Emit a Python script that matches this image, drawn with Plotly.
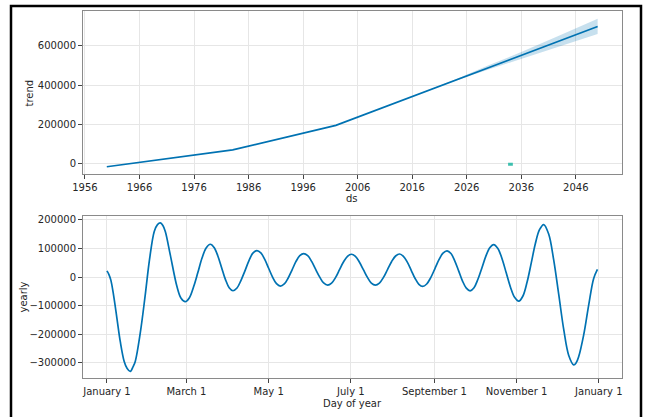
import plotly.graph_objects as go
import pandas as pd

W, H = 646, 417

# ---- trend panel data ----
trend_dates = ["1960-01-01", "1983-02-01", "2002-01-01", "2016-01-01", "2026-01-01", "2036-01-01", "2050-01-01"]
trend_vals = [-15200, 70800, 195500, 343000, 448000, 551000, 698000]

band_dates = ["2016-01-01", "2024-01-01", "2030-01-01", "2036-01-01", "2043-01-01", "2050-01-01"]
band_upper = [343500, 430000, 501000, 568000, 652000, 738000]
band_lower = [342500, 424000, 479000, 534000, 598000, 660000]

marker_dates = ["2033-08-01", "2034-06-15"]
marker_vals = [-3000, -3000]

trend_tick_years = [1956, 1966, 1976, 1986, 1996, 2006, 2016, 2026, 2036, 2046]
trend_yticks = [0, 200000, 400000, 600000]

# ---- yearly panel data (day of year, value) ----
yearly_days = [
    0, 1.4, 2.9, 4.9, 7.4, 9.9, 12.8, 15.0, 17.3,
    19.5, 21.0, 24.7, 28.4, 31.6, 35.1, 37.5, 39.6,
    41.5, 43.3, 47.0, 51.9, 55.0, 58.1,
    61.2, 64.3, 67.4, 70.5, 73.6, 76.7,
    79.5, 82.3, 85.1, 87.9, 90.7, 93.5,
    96.5, 99.4, 102.4, 105.4, 108.3, 111.3,
    114.2, 117.1, 120.0, 122.9, 125.8, 128.7,
    131.6, 134.5, 137.4, 140.2, 143.1, 146.0,
    149.0, 151.9, 154.9, 157.9, 160.8, 163.8,
    166.7, 169.7, 172.6, 175.5, 178.5, 181.4,
    184.4, 187.3, 190.3, 193.3, 196.2, 199.2,
    202.2, 205.2, 208.2, 211.2, 214.2, 217.2,
    220.0, 222.9, 225.8, 228.6, 231.5, 234.3,
    237.3, 240.3, 243.4, 246.4, 249.4, 252.4,
    255.3, 258.1, 261.0, 263.8, 266.7, 269.5,
    272.4, 275.3, 278.3, 281.2, 284.1, 287.0,
    290.1, 293.2, 296.3, 299.4, 302.5, 305.6,
    308.7, 311.8, 314.9, 317.9, 321.0, 324.1,
    327.8, 331.5, 335.3, 339.0, 342.7, 346.4,
    348.2, 350.1, 353.8, 357.5, 361.2, 364.0,
]
yearly_vals = [
    22000, 10000, -10500, -63000, -144000, -226000, -295000, -320000, -330000,
    -312000, -295000, -196000, -63000, 62000, 160000, 184000, 190000,
    181000, 160000, 78000, -32000, -74000, -86000,
    -72000, -34000, 15000, 66000, 102000, 115000,
    104000, 74000, 33000, -8000, -37000, -47700,
    -38000, -12000, 22000, 58000, 84000, 93000,
    85000, 62000, 31000, 0, -23000, -31400,
    -24000, -3000, 25500, 54000, 75000, 82500,
    75000, 55000, 27000, 0, -20500, -28000,
    -21000, -1000, 26000, 53000, 73000, 80000,
    73000, 53000, 26000, -1000, -21000, -28000,
    -21000, -1000, 26500, 54000, 74000, 81000,
    73000, 52500, 24000, -4000, -25000, -32500,
    -24000, -1500, 30000, 61000, 84000, 92000,
    82500, 57000, 22000, -13000, -38500, -48000,
    -37000, -7500, 33000, 73500, 103000, 114000,
    100500, 64500, 15000, -34500, -70500, -84000,
    -66000, -17000, 50000, 117000, 166000, 184000,
    151000, 61000, -61500, -184000, -274000, -307000,
    -300000, -278000, -202000, -98000, -4700, 27000,
]

yearly_tick_dates = ["2017-01-01", "2017-03-01", "2017-05-01", "2017-07-01", "2017-09-01", "2017-11-01", "2018-01-01"]
yearly_tick_text = ["January 1", "March 1", "May 1", "July 1", "September 1", "November 1", "January 1"]
yearly_yticks = [-300000, -200000, -100000, 0, 100000, 200000]

base = pd.Timestamp("2017-01-01")
yearly_dates = [base + pd.to_timedelta(d, unit="D") for d in yearly_days]

LINE = "#0072B2"
FONT = dict(family="DejaVu Sans", size=10, color="#262626")

fig = go.Figure()
fig.add_trace(go.Scatter(x=band_dates, y=band_upper, mode="lines", line=dict(width=0, color=LINE),
                         showlegend=False, hoverinfo="skip", xaxis="x", yaxis="y"))
fig.add_trace(go.Scatter(x=band_dates, y=band_lower, mode="lines", line=dict(width=0, color=LINE),
                         fill="tonexty", fillcolor="rgba(0,114,178,0.22)",
                         showlegend=False, hoverinfo="skip", xaxis="x", yaxis="y"))
fig.add_trace(go.Scatter(x=trend_dates, y=trend_vals, mode="lines", line=dict(width=1.7, color=LINE),
                         showlegend=False, xaxis="x", yaxis="y"))
fig.add_trace(go.Scatter(x=marker_dates, y=marker_vals, mode="lines", line=dict(width=3, color="#3cbfae"),
                         showlegend=False, xaxis="x", yaxis="y"))
fig.add_trace(go.Scatter(x=yearly_dates, y=yearly_vals, mode="lines",
                         line=dict(width=1.7, color=LINE, shape="spline", smoothing=1.0),
                         showlegend=False, xaxis="x2", yaxis="y2"))

axis_common = dict(showline=True, mirror=True, linecolor="#8a8a8a", linewidth=1.3,
                   ticks="outside", ticklen=3.5, tickwidth=1, tickcolor="#444",
                   showgrid=True, gridcolor="#e6e6e6", gridwidth=1, zeroline=False,
                   tickfont=FONT, automargin=False)

fig.update_layout(
    width=W, height=H, paper_bgcolor="white", plot_bgcolor="white",
    margin=dict(l=0, r=0, t=0, b=0),
    xaxis=dict(domain=[82.7 / W, 621.7 / W], anchor="y", type="date",
               range=["1955-08-01", "2054-06-01"],
               tickvals=[f"{y}-01-01" for y in trend_tick_years],
               ticktext=[str(y) for y in trend_tick_years], **axis_common),
    yaxis=dict(domain=[1 - 174 / H, 1 - 11 / H], anchor="x", range=[-52000, 777000],
               tickvals=trend_yticks, ticktext=[str(v) for v in trend_yticks], **axis_common),
    xaxis2=dict(domain=[82.7 / W, 621.7 / W], anchor="y2", type="date",
                range=["2016-12-14", "2018-01-18"],
                tickvals=yearly_tick_dates, ticktext=yearly_tick_text, **axis_common),
    yaxis2=dict(domain=[1 - 378 / H, 1 - 215.7 / H], anchor="x2", range=[-353000, 215000],
                tickvals=yearly_yticks,
                ticktext=[("\u2212" + str(-v)) if v < 0 else str(v) for v in yearly_yticks],
                **axis_common),
    annotations=[
        dict(text="trend", x=29.5 / W, y=1 - 93 / H, xref="paper", yref="paper", showarrow=False,
             textangle=-90, font=FONT, xanchor="center", yanchor="middle"),
        dict(text="ds", x=352 / W, y=1 - 199 / H, xref="paper", yref="paper", showarrow=False,
             font=FONT, xanchor="center", yanchor="middle"),
        dict(text="yearly", x=22.5 / W, y=1 - 297 / H, xref="paper", yref="paper", showarrow=False,
             textangle=-90, font=FONT, xanchor="center", yanchor="middle"),
        dict(text="Day of year", x=352 / W, y=1 - 403 / H, xref="paper", yref="paper", showarrow=False,
             font=FONT, xanchor="center", yanchor="middle"),
    ],
    shapes=[dict(type="rect", xref="paper", yref="paper", x0=11 / W, x1=641 / W, y0=-0.05, y1=1 - 6 / H,
                 line=dict(color="black", width=2.5), fillcolor="rgba(0,0,0,0)")],
)

fig.write_html("out.html",
               config={"displayModeBar": False},
               post_script="document.body.style.margin='0';document.body.style.overflow='hidden';")
